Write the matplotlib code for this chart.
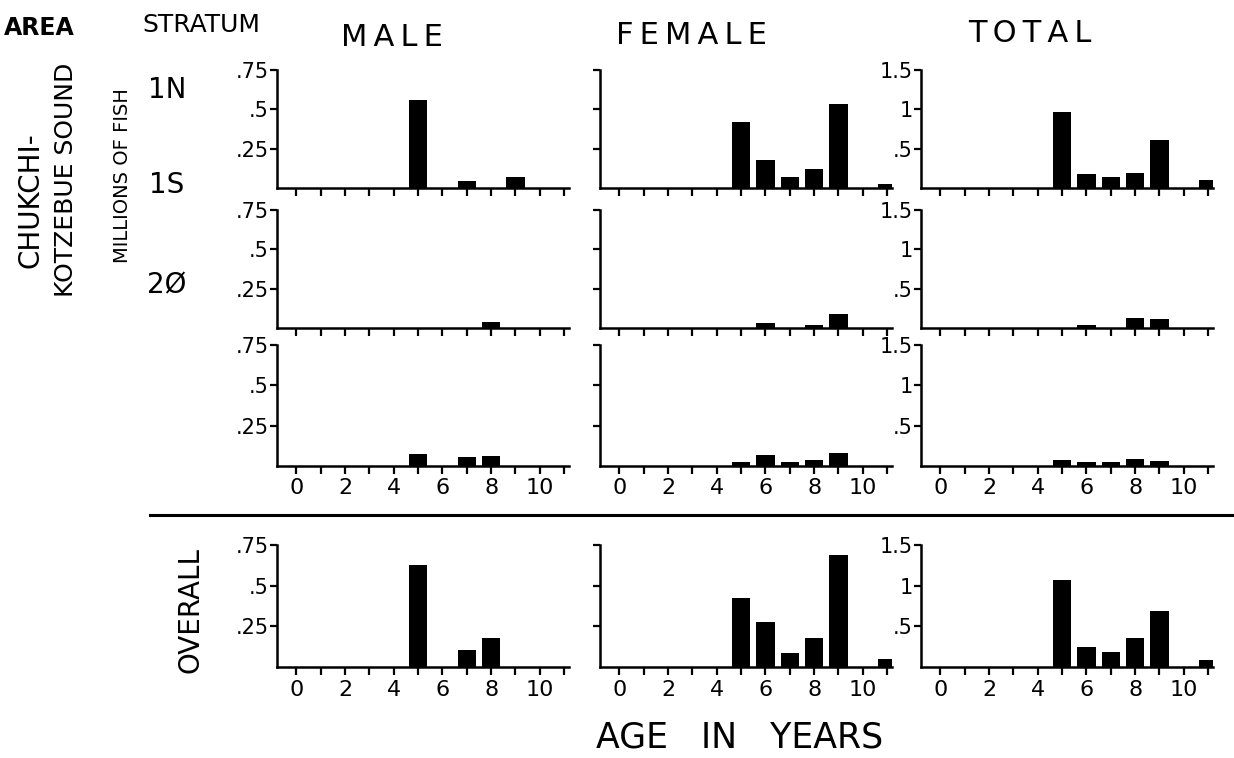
import matplotlib.pyplot as plt
import numpy as np

W, H = 1234, 758

ages = np.arange(12)
age_labels = ["0", "", "2", "", "4", "", "6", "", "8", "", "10", ""]

strata = ["1N", "1S", "2Ø"]
columns = ["MALE", "FEMALE", "TOTAL"]

# millions of fish by age (0..11)
male_1n = [0, 0, 0, 0, 0, 0.56, 0, 0.045, 0, 0.07, 0, 0]
female_1n = [0, 0, 0, 0, 0, 0.42, 0.175, 0.07, 0.12, 0.535, 0, 0.025]
total_1n = [0, 0, 0, 0, 0, 0.96, 0.18, 0.145, 0.19, 0.61, 0, 0.10]

male_1s = [0, 0, 0, 0, 0, 0, 0, 0, 0.04, 0, 0, 0]
female_1s = [0, 0, 0, 0, 0, 0, 0.03, 0, 0.02, 0.09, 0, 0]
total_1s = [0, 0, 0, 0, 0, 0, 0.04, 0, 0.125, 0.12, 0, 0]

male_20 = [0, 0, 0, 0, 0, 0.073, 0, 0.056, 0.06, 0, 0, 0]
female_20 = [0, 0, 0, 0, 0, 0.027, 0.069, 0.025, 0.035, 0.08, 0, 0]
total_20 = [0, 0, 0, 0, 0, 0.072, 0.055, 0.05, 0.085, 0.06, 0, 0]

male_all = [0, 0, 0, 0, 0, 0.63, 0, 0.107, 0.18, 0, 0, 0]
female_all = [0, 0, 0, 0, 0, 0.423, 0.275, 0.085, 0.18, 0.69, 0, 0.05]
total_all = [0, 0, 0, 0, 0, 1.07, 0.245, 0.185, 0.36, 0.685, 0, 0.08]

rows = [
    [male_1n, female_1n, total_1n],
    [male_1s, female_1s, total_1s],
    [male_20, female_20, total_20],
    [male_all, female_all, total_all],
]

plt.rcParams["font.family"] = ["DejaVu Sans"]

fig = plt.figure(figsize=(W / 100, H / 100), dpi=100)


def fig_text(x, y, s, **kw):
    fig.text(x / W, 1 - y / H, s, **kw)


def spaced(s):
    return "\u2009".join(s)


col_left = [277, 600, 921]
col_width = 292
row_top = [70, 210, 345, 545]
row_base = [188, 328, 466, 667]

for r, row in enumerate(rows):
    for c, vals in enumerate(row):
        left = col_left[c]
        bottom = row_base[r]
        height = row_base[r] - row_top[r]
        ax = fig.add_axes([left / W, 1 - bottom / H, col_width / W, height / H])
        ax.bar(ages, vals, width=0.75, color="black")
        ax.set_xlim(-0.8, 11.2)
        if c == 2:
            ax.set_ylim(0, 1.5)
            ax.set_yticks([0.5, 1, 1.5])
            ax.set_yticklabels([".5", "1", "1.5"])
        else:
            ax.set_ylim(0, 0.75)
            ax.set_yticks([0.25, 0.5, 0.75])
            ax.set_yticklabels([".25", ".5", ".75"])
        if c == 1:
            ax.set_yticklabels([])
        ax.set_xticks(ages)
        if r >= 2:
            ax.set_xticklabels(age_labels)
        else:
            ax.set_xticklabels([])
        for side in ["top", "right"]:
            ax.spines[side].set_visible(False)
        for side in ["left", "bottom"]:
            ax.spines[side].set_linewidth(1.8)
        ax.tick_params(axis="x", direction="out", length=6, width=1.6,
                       labelsize=16, pad=3)
        ax.tick_params(axis="y", direction="out", length=5, width=1.6,
                       labelsize=15, pad=1)
        ax.patch.set_alpha(0)

# headings
fig_text(4, 28, "AREA", fontsize=17, fontweight="bold", va="center")
fig_text(142, 25, "STRATUM", fontsize=18, va="center")
fig_text(392, 38, spaced(columns[0]), fontsize=22, ha="center", va="center")
fig_text(691, 36, spaced(columns[1]), fontsize=22, ha="center", va="center")
fig_text(1030, 33, spaced(columns[2]), fontsize=22, ha="center", va="center")

stratum_y = [90, 185, 285]
for s, y in zip(strata, stratum_y):
    fig_text(167, y, s, fontsize=20, ha="center", va="center")

fig_text(31, 200, "CHUKCHI-", fontsize=20, rotation=90, ha="center", va="center")
fig_text(66, 180, "KOTZEBUE SOUND", fontsize=18, rotation=90, ha="center", va="center")
fig_text(122, 176, "MILLIONS OF FISH", fontsize=14, rotation=90, ha="center", va="center")
fig_text(190, 610, "OVERALL", fontsize=20, rotation=90, ha="center", va="center")

fig_text(740, 738, "AGE   IN   YEARS", fontsize=25, ha="center", va="center")

fig.add_artist(plt.Line2D([150 / W, 1], [1 - 515 / H, 1 - 515 / H],
                          color="black", linewidth=2.2))

fig.savefig("out.png", dpi=100)
